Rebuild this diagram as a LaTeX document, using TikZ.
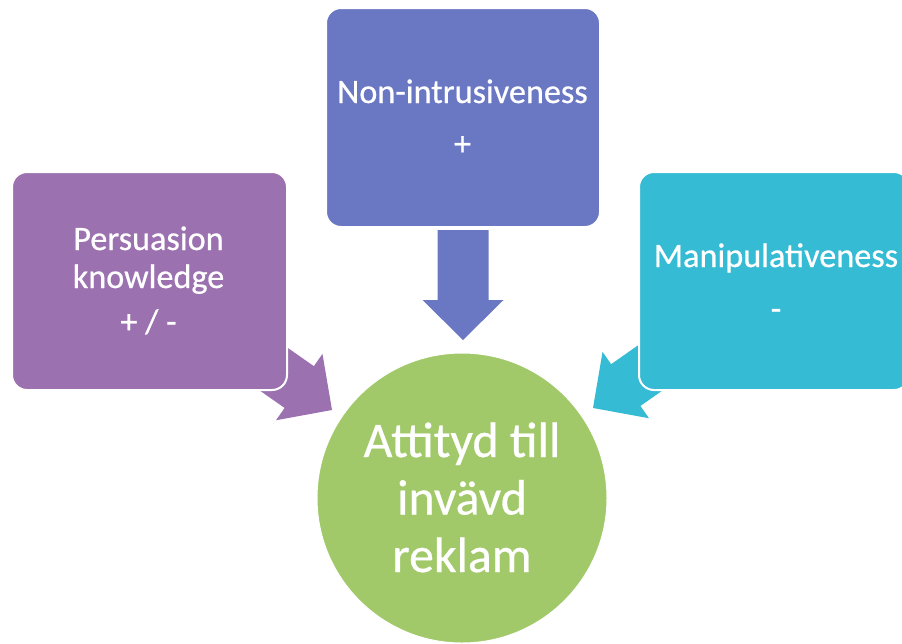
\documentclass[tikz,border=0pt]{standalone}
\usepackage{fontspec}
\setmainfont{Carlito}
\newfontfamily\boldish[FakeBold=0.6]{Carlito}
\definecolor{cpurple}{RGB}{155,113,176}
\definecolor{cblue}{RGB}{106,120,196}
\definecolor{ccyan}{RGB}{53,187,211}
\definecolor{cgreen}{RGB}{161,201,106}
\tikzset{
  boxshape/.style={rounded corners=15pt, draw=white, line width=2pt},
  boxtxt/.style={text=white, font=\boldish\fontsize{34.2}{36}\selectfont, anchor=base, inner sep=0pt},
  circtxt/.style={text=white, font=\boldish\fontsize{49.8}{52}\selectfont, anchor=base, inner sep=0pt}
}
\newcommand{\blockarrowpath}{(0,0) -- (-40,40.5) -- (-40,25.5) -- (-110,25.5) -- (-110,-25.5) -- (-40,-25.5) -- (-40,-40.5) -- cycle}
\begin{document}
\begin{tikzpicture}[x=1pt,y=1pt]
\useasboundingbox (0,0) rectangle (902,-643);
% arrows (drawn first; boxes overlap them)
\fill[cpurple, shift={(332,-410)}, rotate=-35] \blockarrowpath;
\fill[cblue, shift={(463,-340)}, rotate=-90] \blockarrowpath;
\fill[ccyan, shift={(593,-408)}, rotate=215] \blockarrowpath;
% boxes
\node[boxshape, fill=cpurple, minimum width=275pt, minimum height=218pt, inner sep=0pt] (pk) at (149.5,-281) {};
\node[boxshape, fill=cblue, minimum width=274pt, minimum height=219pt, inner sep=0pt] (ni) at (463,-117.5) {};
\node[boxshape, fill=ccyan, minimum width=270pt, minimum height=218pt, inner sep=0pt] (ma) at (774,-281) {};
% circle
\node[circle, fill=cgreen, draw=white, line width=1pt, minimum size=290pt, inner sep=0pt] (at) at (462,-498) {};
% texts
\node[boxtxt] (pk1) at (148.5,-250) {Persuasion};
\node[boxtxt] (pk2) at (148.5,-288) {knowledge};
\node[boxtxt] (pk3) at (148.5,-333) {+ / -};
\node[boxtxt] (ni1) at (462.5,-103) {Non-intrusiveness};
\node[boxtxt] (ni2) at (462.5,-155) {+};
\node[boxtxt] (ma1) at (776,-267) {Manipulativeness};
\node[boxtxt] (ma2) at (776,-320) {-};
\node[circtxt] (at1) at (462,-457) {Attityd till};
\node[circtxt] (at2) at (462,-514.5) {invävd};
\node[circtxt] (at3) at (462,-572) {reklam};
\end{tikzpicture}
\end{document}
